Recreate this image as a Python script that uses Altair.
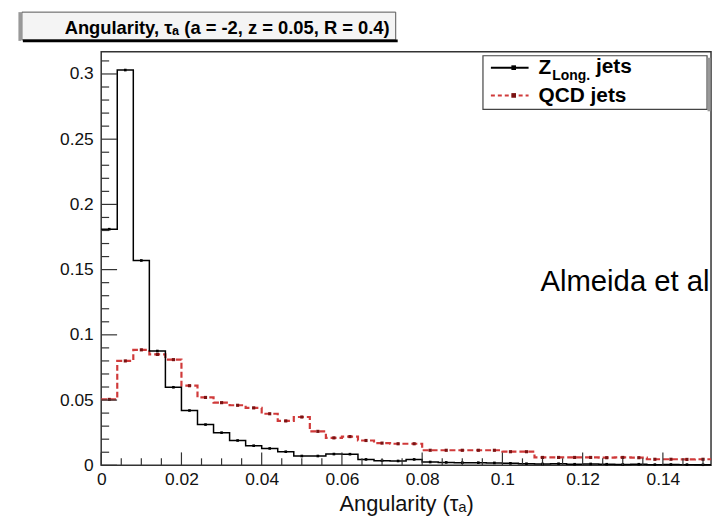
import altair as alt
import pandas as pd

# ---------------- data ----------------
bin_width = 0.004
x_max = 0.152
zlong_vals = [0.181, 0.303, 0.157, 0.0876, 0.0598, 0.042, 0.0312, 0.025, 0.019, 0.015,
              0.0129, 0.0104, 0.0071, 0.0071, 0.0086, 0.0085, 0.0045, 0.0035, 0.0033, 0.0045,
              0.0025, 0.0022, 0.002, 0.002, 0.0018, 0.0015, 0.0012, 0.001, 0.0012, 0.0008,
              0.001, 0.0008, 0.0006, 0.0008, 0.0005, 0.0006, 0.0005, 0.0004]
qcd_vals = [0.0505, 0.080, 0.0885, 0.085, 0.081, 0.061, 0.052, 0.048, 0.046, 0.044,
            0.0395, 0.034, 0.037, 0.026, 0.021, 0.022, 0.019, 0.017, 0.0165, 0.0165,
            0.0115, 0.0115, 0.0115, 0.0115, 0.0115, 0.0104, 0.0104, 0.006, 0.006, 0.006,
            0.006, 0.0058, 0.006, 0.0058, 0.0046, 0.0046, 0.0045, 0.0046]
x_tick_labels = [0, 0.02, 0.04, 0.06, 0.08, 0.1, 0.12, 0.14]
y_tick_labels = [0, 0.05, 0.1, 0.15, 0.2, 0.25, 0.3]
x_minor = [round(i * 0.005, 3) for i in range(31) if i % 4 != 0]
y_minor = [round(i * 0.01, 2) for i in range(32) if i % 5 != 0]

title_text = "Angularity, τₐ (a = -2, z = 0.05, R = 0.4)"
x_title = "Angularity (τₐ)"
note_text = "Almeida et al"

W, H = 615, 417
FONT = "Liberation Sans, Arial, DejaVu Sans"


def step_frame(vals):
    rows = []
    for i, v in enumerate(vals):
        rows.append({"x": i * bin_width, "y": v, "c": i * bin_width + bin_width / 2})
    rows.append({"x": x_max, "y": vals[-1], "c": None})
    return pd.DataFrame(rows)


z_df = step_frame(zlong_vals)
q_df = step_frame(qcd_vals)

xs = alt.Scale(domain=[0, x_max], nice=False, zero=False)
ys = alt.Scale(domain=[0, 0.317], nice=False)

x_axis = alt.Axis(values=x_tick_labels, format="~g", title=x_title, labelFlush=False,
                  tickSize=0, domain=False, grid=False, labelPadding=5,
                  titleFontSize=22, titleFontWeight="normal", titlePadding=6)
y_axis = alt.Axis(values=y_tick_labels, format="~g", title=None, tickSize=0,
                  domain=False, grid=False, labelPadding=8)

base_z = alt.Chart(z_df)
base_q = alt.Chart(q_df)

z_line = base_z.mark_line(interpolate="step-after", color="black", strokeWidth=1.5).encode(
    x=alt.X("x:Q", scale=xs, axis=x_axis), y=alt.Y("y:Q", scale=ys, axis=y_axis))
q_line = base_q.mark_line(interpolate="step-after", color="#d03a3a", strokeWidth=2.2,
                          strokeDash=[6, 3]).encode(x=alt.X("x:Q", scale=xs), y=alt.Y("y:Q", scale=ys))
q_pts = base_q.transform_filter("datum.c != null").mark_square(size=10, color="#7a1212", opacity=1).encode(
    x=alt.X("c:Q", scale=xs), y=alt.Y("y:Q", scale=ys))
z_pts = base_z.transform_filter("datum.c != null").mark_square(size=7, color="black", opacity=1).encode(
    x=alt.X("c:Q", scale=xs), y=alt.Y("y:Q", scale=ys))


def yticks(vals, length):
    return alt.Chart(pd.DataFrame({"v": vals})).mark_rule(color="#333", strokeWidth=1.2).encode(
        y=alt.Y("v:Q", scale=ys), x=alt.value(0), x2=alt.value(length))


def xticks(vals, length):
    return alt.Chart(pd.DataFrame({"v": vals})).mark_rule(color="#333", strokeWidth=1.2).encode(
        x=alt.X("v:Q", scale=xs), y=alt.value(H), y2=alt.value(H - length))


ticks = [yticks(y_tick_labels, 16), yticks(y_minor, 8), xticks(x_tick_labels, 13), xticks(x_minor, 7)]

one = pd.DataFrame({"t": [0]})


def txt(text, x, y, size, weight="normal", align="left"):
    return alt.Chart(one).mark_text(text=text, font=FONT, fontSize=size, fontWeight=weight,
                                    align=align, baseline="alphabetic", color="black").encode(
        x=alt.value(x), y=alt.value(y))


def box(x1, x2, y1, y2, fill, stroke, sw=1.0):
    return alt.Chart(one).mark_rect(fill=fill, stroke=stroke, strokeWidth=sw).encode(
        x=alt.value(x1), x2=alt.value(x2), y=alt.value(y1), y2=alt.value(y2))


def seg(x1, x2, y1, y2, color, sw, dash=None):
    kw = dict(color=color, strokeWidth=sw)
    if dash:
        kw["strokeDash"] = dash
    return alt.Chart(one).mark_rule(**kw).encode(
        x=alt.value(x1), x2=alt.value(x2), y=alt.value(y1), y2=alt.value(y2))


def sq(x, y, color, size):
    return alt.Chart(one).mark_square(color=color, size=size, opacity=1).encode(
        x=alt.value(x), y=alt.value(y))


title_layers = [
    box(-80, 297, -40, -12, "#f4f4f4", "#555", 1),
    seg(-79, 299, -11, -11, "black", 3),
    seg(-82, -82, -40, -11, "#999", 3),
    txt(title_text, 127, -18, 18.5, "bold", "center"),
]

legend_layers = [
    box(385, 611, 4, 58, "white", "#444", 1.2),
    seg(613, 613, 6, 60, "#999", 3),
    seg(393, 431, 16, 16, "black", 2),
    sq(416, 16, "black", 22),
    txt("Z", 441, 22, 21, "bold"),
    txt("Long.", 455, 28, 14, "bold"),
    txt("jets", 499, 21, 21, "bold"),
    seg(393, 431, 44, 44, "#d03a3a", 2, [4, 3]),
    sq(416, 44, "#7a1212", 22),
    txt("QCD jets", 441, 51, 21, "bold"),
]

note = txt(note_text, 443, 241, 29.5)

chart = alt.layer(
    q_line, z_line, q_pts, z_pts, *ticks, *title_layers, *legend_layers, note
).properties(
    width=W, height=H,
    padding={"left": 94, "top": 42, "right": 3, "bottom": 50},
    autosize=alt.AutoSizeParams(type="none"),
    background="white",
).configure_view(
    stroke="#333", strokeWidth=1.5
).configure_axis(
    labelFont=FONT, labelFontSize=17.5, labelColor="#111", titleFont=FONT, titleColor="#111"
)

chart.save("out.html", embed_options={"renderer": "svg", "actions": False})
